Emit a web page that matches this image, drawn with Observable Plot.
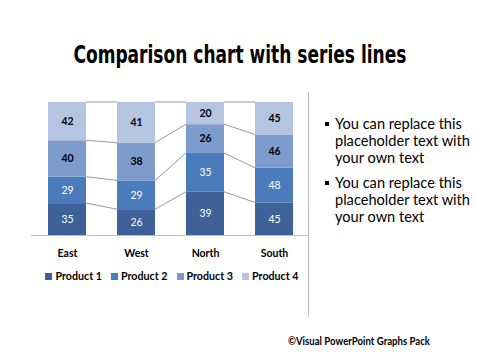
<!DOCTYPE html>
<html><head><meta charset="utf-8">
<script src="https://cdn.jsdelivr.net/npm/d3@7"></script>
<script src="https://cdn.jsdelivr.net/npm/@observablehq/plot@0.6"></script>
<style>
body{margin:0;width:480px;height:360px;background:#fff;position:relative;overflow:hidden;font-family:Lato,"Open Sans",sans-serif;color:#000;}
#title{position:absolute;left:0;top:41px;width:480px;text-align:center;}
#title span{display:inline-block;font-family:"DejaVu Sans Condensed","DejaVu Sans",sans-serif;font-stretch:condensed;font-weight:bold;font-size:24px;line-height:28px;transform-origin:center;white-space:nowrap;}
#chart{position:absolute;left:0;top:90px;}
#legend{position:absolute;left:33px;width:278px;top:269px;display:flex;justify-content:center;gap:9px;font-size:10.7px;font-weight:bold;}
#legend span.sw{display:inline-block;width:7px;height:7px;margin-right:3px;vertical-align:0px;}
#divider{position:absolute;left:308px;top:92px;width:1px;height:225px;background:#bdbdbd;}
#notes{position:absolute;left:335px;top:115px;width:145px;font-size:14.6px;line-height:17px;}
#notes p{margin:0 0 8px 0;position:relative;}
#notes p::before{content:"";position:absolute;left:-10px;top:7px;width:4px;height:4px;background:#000;}
#footer{position:absolute;left:288px;top:335px;font-size:10.5px;font-weight:bold;white-space:nowrap;transform-origin:left center;}
</style></head><body>
<div id="title"><span>Comparison chart with series lines</span></div>
<div id="chart"></div>
<div id="legend"></div>
<div id="divider"></div>
<div id="notes"><p>You can replace this placeholder text with your own text</p><p>You can replace this placeholder text with your own text</p></div>
<div id="footer">©Visual PowerPoint Graphs Pack</div>
<script>
const regions = ["East", "West", "North", "South"];
const products = ["Product 1", "Product 2", "Product 3", "Product 4"];
const product1 = [35, 26, 39, 45];
const product2 = [29, 29, 35, 48];
const product3 = [40, 38, 26, 46];
const product4 = [42, 41, 20, 45];
const colors = ["#3e6298", "#4a7bbb", "#7d9bcc", "#b5c4e1"];

const series = [product1, product2, product3, product4];
const rows = [];
const cum = series.map(() => []);
regions.forEach((r, i) => {
  const total = d3.sum(series, s => s[i]);
  let c = 0;
  series.forEach((s, j) => {
    const y1 = c / total;
    c += s[i];
    const y2 = c / total;
    cum[j].push(y2);
    rows.push({region: r, product: products[j], value: s[i], y1, y2, j});
  });
});

const chart = Plot.plot({
  width: 320, height: 185,
  marginLeft: 31, marginRight: 11, marginTop: 12, marginBottom: 40,
  x: {domain: regions, paddingInner: 0.45, paddingOuter: 0.225, label: null, tickSize: 0, tickPadding: 14},
  y: {domain: [0, 1], axis: null},
  color: {domain: products, range: colors},
  style: {fontFamily: "Lato, 'Open Sans', sans-serif", fontSize: "10.5px", fontWeight: "bold", color: "#000", background: "transparent"},
  marks: [
    Plot.barY(rows, {x: "region", y1: "y1", y2: "y2", fill: "product"}),
    Plot.text(rows.filter(d => d.j < 2), {x: "region", y: d => (d.y1 + d.y2) / 2, text: "value", fill: "white", fontWeight: "normal", fontSize: 10.5}),
    Plot.text(rows.filter(d => d.j >= 2), {x: "region", y: d => (d.y1 + d.y2) / 2, text: "value", fill: "black", fontWeight: "bold", fontSize: 10.5}),
    Plot.ruleY([0], {stroke: "#bdbdbd"})
  ]
});
document.getElementById("chart").appendChild(chart);

// series lines connecting segment tops between neighbouring bars
const xs = chart.scale("x"), ys = chart.scale("y");
const bw = xs.bandwidth;
const links = [];
cum.forEach((c, j) => {
  for (let i = 0; i < regions.length - 1; i++) {
    links.push({x1: xs.apply(regions[i]) + bw, y1: ys.apply(c[i]), x2: xs.apply(regions[i + 1]), y2: ys.apply(c[i + 1])});
  }
});
d3.select(chart).append("g")
  .attr("stroke", "#7f7f7f").attr("stroke-width", 0.8)
  .selectAll("line").data(links).join("line")
  .attr("x1", d => d.x1).attr("y1", d => d.y1)
  .attr("x2", d => d.x2).attr("y2", d => d.y2);

const legend = d3.select("#legend");
products.forEach((p, j) => {
  const item = legend.append("div");
  item.append("span").attr("class", "sw").style("background", colors[j]);
  item.append("span").text(p);
});

// fit the title and footer to the reference widths
const t = document.querySelector("#title span");
t.style.transform = `scaleX(${333 / t.getBoundingClientRect().width})`;
const f = document.getElementById("footer");
f.style.transform = `scaleX(${142 / f.getBoundingClientRect().width})`;
</script>
</body></html>
